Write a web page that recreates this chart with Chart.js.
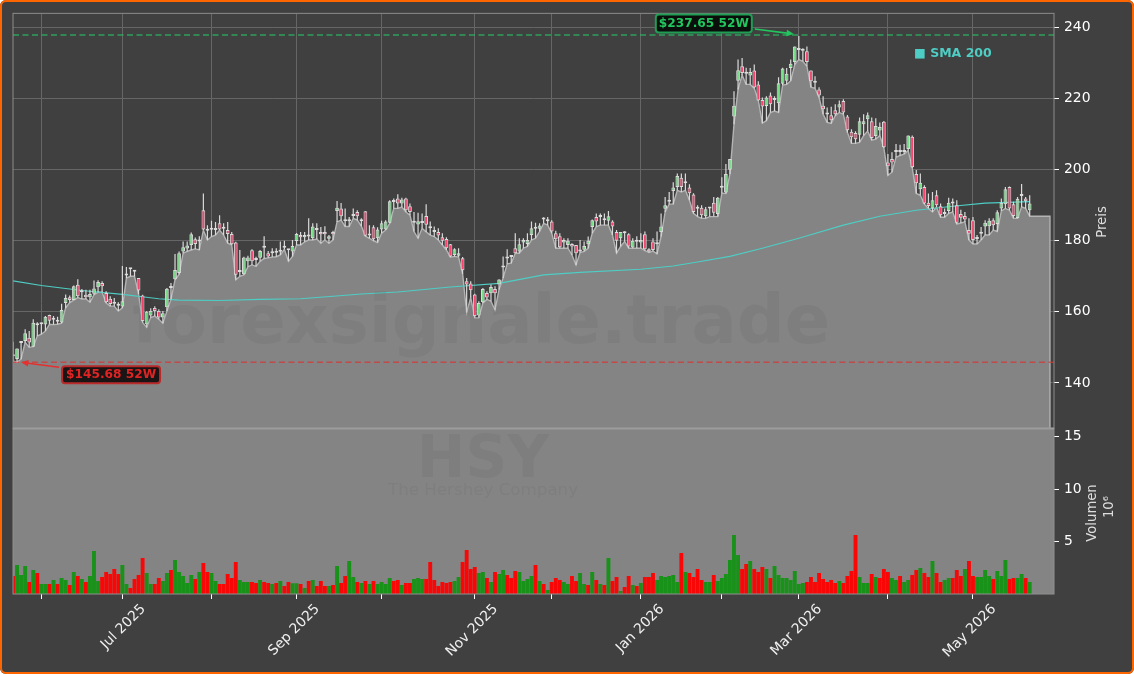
<!DOCTYPE html>
<html>
<head>
<meta charset="utf-8">
<title>HSY</title>
<script src="https://cdn.jsdelivr.net/npm/chart.js@4/dist/chart.umd.min.js"></script>
<style>
  html, body { margin: 0; padding: 0; background: #fff; }
  #wrap { position: relative; width: 1134px; height: 674px; overflow: hidden; }
  #chart { position: absolute; left: 0; top: 0; background: #404040; border-radius: 6px; }
  #frame { position: absolute; left: 0; top: 0; width: 1130px; height: 670px; border: 2px solid #ff6600; border-radius: 6px; pointer-events: none; }
</style>
</head>
<body>
<div id="wrap">
  <canvas id="chart" width="1134" height="674"></canvas>
  <div id="frame"></div>
</div>
<script>
// values, one entry per trading day
const opens = [
  148,146.7,151.2,151.8,152.7,150.2,156.2,156.5,156.4,159.1,
  157.8,157.2,157,162.5,164.1,163.3,167.6,165.6,164.8,164.1,
  165.1,166.9,168.1,165.3,163.7,162.4,161.9,161.5,170.2,172,
  171.6,169.5,164.6,156.5,159,161.1,160.2,158.4,161.3,166.7,
  169.2,170.9,177,177.8,178.8,180.4,179.8,188.6,182.8,183.1,
  183,184.9,183.5,183,181.9,179.5,171.4,170.6,174.2,177.3,
  174.7,175.2,178.1,176.5,176.5,176.8,176.9,178,177.6,177,
  179.9,181.6,181,181.3,180.7,183,182.5,182.5,180.6,182.5,
  188.4,189.1,185.5,185.5,187,188.1,185.5,188.3,182,183.8,
  180.7,183.2,183.2,185.1,191.4,191.9,190.5,191.9,189.7,185.2,
  184.6,185,187,184,183,182.5,181,180.5,179,176,
  175.8,175.1,168.6,168,164.9,159,162.7,165.3,165.2,166.4,
  167.7,172.5,175,175.4,177.9,177,179.5,179.1,181.6,183.5,
  183.4,186,185.6,185.4,182.1,181.3,179.5,178.8,179.1,178.8,
  177,177.5,179,183.9,186.7,186.8,185.8,185.6,185.4,182.5,
  180.7,182.1,181.8,178.1,179.8,179.5,181.8,177.6,179.8,179,
  182.5,189,191,194,195.1,197.7,196.3,195,193,189.6,
  189.3,186.9,189.1,190.7,187.5,194.9,193.6,200,215,225,
  229.1,227,226.5,227.9,224,219.6,217.9,220.9,219.7,218.7,
  224.2,225,228.6,230.3,233.8,233.5,233.3,227.9,225,222.6,
  218,215.5,215.3,216.7,217.5,219.3,215,210.7,210.3,209.8,
  212.8,214.2,213.6,209.5,211,213.5,202,203,205,205,
  205,205.8,209.3,198.8,194.5,195.1,190.7,189.1,192.8,189.7,
  188,188.4,190.5,190,187.5,187,183,185.8,181,182,
  184,184.1,185.8,184.7,189.1,190.3,195.1,190.3,186.4,192.6,
  191.9,188.6
];
const closes = [
  147.5,149.7,151.4,154,151.4,156.9,156.4,156.6,158.6,157.5,
  158,157.6,160.5,163.9,163.3,167.2,164.4,165.5,164.1,165,
  166.6,168.4,167.2,162.7,162.2,162.3,161.7,163,170.4,172,
  171.3,166,157.4,160,160.2,160.2,158.4,159.6,166.5,166.8,
  171.8,176.5,178.2,178.7,181.8,179.1,180.1,183.2,183,183.4,
  183.5,183.2,183.4,181.9,179,170.4,171.2,175.3,175.3,174.2,
  174.6,177.1,178,175.6,177,176.6,177.5,178.5,177.3,178.5,
  181.9,181,181.6,181.2,184,183.2,181.8,181.8,181.3,181.8,
  189.3,186.9,186,186,187.5,186.9,186,181.4,181.5,180.4,
  183.2,184.9,185.4,191.1,190.9,190.5,191.6,188.6,188.1,185.1,
  185.5,185.4,184.5,183.5,182.5,181.5,180,177.9,175.6,177.6,
  176.5,171.7,167.7,166.1,158.8,162.5,166.4,164,167,165.2,
  169.1,173,175.5,175.5,176.5,179,180.2,180.2,183.5,183.4,
  184.3,186.1,185.5,182.6,180.4,178.2,180.2,180,178.4,176.5,
  177,178.5,180,185.8,185.4,186.7,185.9,186.9,184,180,
  182.5,182.1,178.4,180,179.7,180.2,177.6,177,177.4,179.5,
  184,190,191.5,195,198.2,195.1,196.2,193.4,188.1,189,
  187.2,188.9,189.1,187.9,192.1,195,198.8,203,218,228,
  227.2,227.5,227.5,223.1,219.5,217.8,220.3,218.4,219.6,224.3,
  228.5,227,229.8,234.7,233.7,234,230.3,224.9,224.5,220.9,
  217,216,213.9,215.6,218.4,216.1,211.1,209.1,208.6,213.6,
  213.6,215.3,208.9,212.3,212,206.3,201,202,205.5,205.2,
  205.3,209.6,200.7,196.2,196.3,190.5,189.8,191.4,190,187.2,
  187.5,190.7,190.5,185.1,186.5,186,182,180.2,180.5,182.5,
  185.1,185.6,184.4,188,190.7,194.5,189.1,187,191.8,192.6,
  191.1,190.5
];
const highs = [
  151.6,149.7,151.5,155.1,154.6,157.9,157.1,156.9,158.8,159.2,
  158.8,158.6,162.3,164.9,164.6,167.4,169.2,166.4,166.2,166.2,
  168.8,168.9,168.6,165.8,164.4,163.9,162.7,172.9,172.6,172.3,
  171.8,169.5,164.8,160.2,161,161.6,160.7,160.2,166.7,168.1,
  176.3,177,179.8,179.8,182.3,180.9,181.3,193.3,184.4,185.6,
  185.3,187.2,184.9,185.3,182.5,179.7,177.4,175.5,175.8,177.6,
  175.5,177.4,181.3,177.1,177.9,177.9,179.8,180,177.6,180.2,
  182.2,182.5,182.5,186.3,184.9,184.9,183.9,184.1,181.6,182.8,
  191.2,190.6,189.1,186.7,189.1,188.6,186.3,188.3,184.4,184.4,
  183.8,185.6,185.8,191.4,191.9,193.1,192.1,192.1,190.5,188.1,
  187.9,187.7,190.3,185.4,184,183.5,182.1,181,179.1,177.9,
  177.9,175.4,169.5,168.6,165.1,163,166.7,165.8,167.7,167.2,
  169.2,175.6,177.6,176,182.1,180.7,180.7,182.1,185.4,185.1,
  184.9,186.6,186.7,185.8,182.8,182.1,180.7,180.7,179.3,178.8,
  180.2,179.8,181.2,186,187.7,187.7,187.7,188.4,185.8,183,
  182.5,182.7,182.1,180.7,181.3,182.1,182.6,177.9,180.7,182.6,
  187.7,192.3,193.7,196.5,198.9,198.9,198.9,195.9,193.4,190,
  190,189.5,189.5,192.3,192.3,197.9,201.6,203,222.1,231,
  231.4,228.7,228.6,229.6,224.9,220.3,220.7,221.7,220.7,226,
  228.7,228.6,231,234.7,237.65,234.2,234.7,227.9,226.3,223.2,
  220.7,217.5,217.7,218.4,219.5,219.8,215.4,211.4,210.8,214.7,
  215.6,216.1,214.7,214.5,213.3,213.7,204.4,204.9,207.2,207,
  207.2,209.6,209.6,199.9,198.9,195.6,193.3,193.7,194.2,190.5,
  189.1,192.1,191.9,191.4,188.7,188.1,186.3,186.7,181.6,183.9,
  185.8,186.3,186.3,188.6,191.9,195.1,195.3,191,192.3,196,
  192.3,192.8
];
const lows = [
  146.2,145.8,146.7,151.4,150,150.2,153.2,153.7,154.6,156.5,
  156.4,156.5,156.8,161.1,162.6,163.3,164,163.6,163.6,162.7,
  164.8,165.5,165.5,162.5,161.6,161.6,160.2,161.1,169.5,170,
  170,165,157,155.6,158.4,158.8,157.9,156.8,160.2,163.5,
  169,170.5,176.5,177,177.4,177.7,177.4,183,180.2,181.2,
  181.6,183,181.6,179.3,178.8,169,170,170.4,172.7,173.2,
  172.8,174.2,175,175.2,175.4,175.5,176,177.6,174.2,175.6,
  178.8,178.8,179.7,180.2,180.2,180.5,179.3,180.2,179.3,180.2,
  185.3,185.8,184,184,186.3,185.8,184.1,181.3,180.7,180,
  179.5,182.1,183,184.9,189.1,189.1,189.5,188.1,187.2,182.6,
  180.7,183.5,182.5,181.6,181.2,180.2,178.8,177.4,175.4,175.6,
  175.4,170.7,159.8,164,158.3,158.3,162.5,163.5,163,160.5,
  166.3,169.5,173.5,173.7,176.5,176.5,177.9,178.4,180.2,180.7,
  182.6,184.9,184.4,182.1,177.9,177.9,177.9,177.9,176,173.2,
  176.7,177,177.9,182.1,184,184.4,184.4,184.4,181.6,176.5,
  178.4,179.8,177.9,177.9,177.9,177.9,177.2,176.7,177.1,176.3,
  181.2,188.1,190.3,190.3,194.2,193.7,194.2,191.4,187.7,186.8,
  186.3,186.3,186.8,186.8,186.8,193.4,193.3,198.8,212.8,222.6,
  226.6,224,224,222.9,219.5,213.1,213.8,216.1,216.5,216.1,
  223.8,224,225,229.6,231,230.5,229.1,223.2,222.9,220.3,
  215.6,213.3,213,215.2,216.1,215.6,210.5,207.4,207.4,207.7,
  209.6,210.9,208.3,208.6,209.6,206.1,198.4,199.3,203.5,204,
  204.4,205.4,200.5,193.3,192.8,190.3,189.1,188.1,189.5,186.6,
  186.6,187.7,188.1,184.7,185,185.3,180.2,179.1,179.1,180.2,
  181.6,181.6,183,182.6,188.4,189.1,188.6,186.3,186.3,189.5,
  189.1,186.9
];
// volume in millions, volumeUp: 1 = green bar, 0 = red bar
const volumes = [
  1.71,2.76,1.81,2.67,1.14,2.29,2,.95,.95,.95,
  1.33,.95,1.52,1.33,.86,2.1,1.71,1.43,1.14,1.71,
  4.1,1.24,1.62,2.1,1.9,2.38,1.9,2.76,.95,.57,
  1.43,1.81,3.43,2,.95,.95,1.52,1.24,2,2.29,
  3.24,2.1,1.71,1.05,1.81,1.43,2.1,2.95,2.1,2,
  1.24,.95,.95,1.9,1.52,3.05,1.33,1.14,1.14,1.14,
  1.05,1.33,1.14,1.05,.95,1.05,1.24,.76,1.14,1.02,
  1.02,.95,.57,1.24,1.33,.76,1.24,.76,.76,.86,
  2.67,1.05,1.71,3.14,1.62,1.14,1.05,1.24,.95,1.24,
  .95,1.14,.95,1.52,1.24,1.33,.86,1.05,1.05,1.43,
  1.52,1.43,1.43,3.05,1.33,.76,1.14,1.05,1.14,1.24,
  1.62,3.05,4.19,2.38,2.57,2,2.1,1.52,1.14,2.1,
  1.9,2.29,1.81,1.52,2.19,2.1,1.24,1.43,1.71,2.76,
  1.24,.95,.38,1.14,1.52,1.33,1.14,.95,1.71,1.24,
  2,.95,.86,2.1,1.33,.95,.86,3.43,1.24,1.62,
  .29,.67,1.71,.86,.76,1.05,1.62,1.62,2,1.33,
  1.71,1.62,1.71,1.81,1.14,3.9,2.1,2,1.62,2.38,
  1.33,1.14,1.14,1.81,1.24,1.52,1.9,3.24,5.62,3.71,
  2.38,2.86,3.14,2.38,2.1,2.57,2.38,1.52,2.67,1.81,
  1.52,1.52,1.33,2.19,.95,1.05,1.14,1.62,1.14,2,
  1.43,1.14,1.33,1.05,1.24,1.05,1.71,2.19,5.62,1.62,
  1.05,1.05,1.9,1.62,1.52,2.38,2.1,1.52,1.33,1.71,
  1.14,1.33,1.81,2.29,2.48,2,1.62,3.14,2,1.14,
  1.33,1.52,1.52,2.29,1.71,2.38,3.14,1.71,1.62,1.62,
  2.29,1.71,1.43,2.19,1.71,3.24,1.43,1.52,1.52,1.9,
  1.52,1.14
];
const volumeUp = [
  0,1,1,1,0,1,0,1,1,0,
  1,0,1,1,0,1,0,1,0,1,
  1,1,0,0,0,0,0,1,1,0,
  0,0,0,1,1,0,0,1,1,0,
  1,1,1,1,1,0,1,0,0,1,
  1,0,0,0,0,0,1,1,1,0,
  0,1,0,0,1,0,1,0,0,1,
  1,0,1,0,1,0,0,0,1,0,
  1,0,0,1,1,0,1,0,1,0,
  1,1,1,1,0,0,1,0,0,1,
  1,1,0,0,0,0,0,0,0,1,
  1,0,0,0,0,1,1,0,1,0,
  1,1,0,0,0,1,1,1,1,0,
  1,0,1,0,0,0,1,1,0,0,
  1,1,0,1,0,1,0,1,0,0,
  1,0,0,1,0,1,0,0,0,1,
  1,1,1,1,1,0,1,0,0,0,
  0,1,1,0,1,1,1,1,1,1,
  0,0,1,0,0,0,1,0,1,1,
  1,1,1,1,1,1,0,0,0,0,
  0,0,0,0,1,0,0,0,0,1,
  1,1,0,1,0,0,0,1,1,0,
  1,1,0,0,1,0,0,1,0,0,
  1,1,0,0,0,1,0,0,1,1,
  1,1,0,1,1,1,0,0,1,1,
  0,1
];
// SMA 200 as read at these bar positions
const smaBars = [0,7,17,27,36,41,51,61,71,79,86,95,108,120,131,140,155,163,169,177,185,194,205,214,223,232,240,251];
const smaValues = [168.7,167.4,166,164.9,163.7,163.3,163.2,163.5,163.7,164.4,165,165.6,167,168,170.4,171.1,172,172.9,174,175.6,177.9,180.7,184.4,186.9,188.6,189.7,190.6,191];

const monthBars = [7,27,49,70,91,114,133,155,175,194,216,237];
const monthLabels = ["","Jul 2025","","Sep 2025","","Nov 2025","","Jan 2026","","Mar 2026","","May 2026"];
const priceTicks = [140,160,180,200,220,240];
const volumeTicks = [5,10,15];

// dashed levels as they sit against the grid in the picture
const highLine = 237.9;
const lowLine = 145.8;
const high52Bar = 194;
const low52Bar = 1;
const lastBar = 251;
const tailBars = [252,253,254,255,256];
const priceMin = 127.2;
const priceMax = 244;

const FONT = '"DejaVu Sans", sans-serif';
Chart.defaults.font.family = FONT;
Chart.defaults.font.size = 13.9;
Chart.defaults.color = "#ffffff";

const bars = opens.map((_, i) => i);

// area under the lows, runs on flat after the last bar and drops to the panel floor
const areaPoints = bars.map((i) => ({ x: i, y: lows[i] }));
tailBars.forEach((x) => areaPoints.push({ x, y: lows[lastBar] }));
areaPoints.push({ x: tailBars[tailBars.length - 1], y: priceMin });

const bodyColor = bars.map((i) => (closes[i] >= opens[i] ? "#78e088" : "#f7456f"));

function label52(ctx, text, x, y, w, h, fg, edge, bg) {
  ctx.beginPath();
  ctx.roundRect(x, y, w, h, 3);
  ctx.fillStyle = bg;
  ctx.fill();
  ctx.lineWidth = 2;
  ctx.strokeStyle = edge;
  ctx.stroke();
  ctx.fillStyle = fg;
  ctx.font = "bold 12.2px " + FONT;
  ctx.textAlign = "center";
  ctx.textBaseline = "middle";
  ctx.fillText(text, x + w / 2, y + h / 2 + 0.5);
}

function arrow(ctx, x0, y0, x1, y1, color) {
  const a = Math.atan2(y1 - y0, x1 - x0);
  ctx.strokeStyle = color;
  ctx.fillStyle = color;
  ctx.lineWidth = 1.6;
  ctx.beginPath();
  ctx.moveTo(x0, y0);
  ctx.lineTo(x1 - 7 * Math.cos(a), y1 - 7 * Math.sin(a));
  ctx.stroke();
  ctx.beginPath();
  ctx.moveTo(x1, y1);
  ctx.lineTo(x1 - 8 * Math.cos(a - 0.42), y1 - 8 * Math.sin(a - 0.42));
  ctx.lineTo(x1 - 8 * Math.cos(a + 0.42), y1 - 8 * Math.sin(a + 0.42));
  ctx.closePath();
  ctx.fill();
}

const panelPlugin = {
  id: "panels",
  beforeDatasetsDraw(chart) {
    const { ctx, chartArea } = chart;
    const vol = chart.scales.yVol;
    ctx.save();
    ctx.fillStyle = "#848484";
    ctx.fillRect(chartArea.left, vol.top, chartArea.width, vol.height);
    ctx.restore();
  },
  afterDatasetsDraw(chart) {
    const { ctx, chartArea, scales } = chart;
    const { x, yPrice, yVol } = scales;
    ctx.save();

    // watermarks
    ctx.textAlign = "center";
    ctx.textBaseline = "middle";
    ctx.fillStyle = "rgba(0,0,0,0.045)";
    ctx.font = "bold 67px " + FONT;
    ctx.fillText("forexsignale.trade", 481, 326);
    ctx.font = "bold 58px " + FONT;
    ctx.fillText("HSY", 483, 462);
    ctx.font = "16.7px " + FONT;
    ctx.fillText("The Hershey Company", 483, 491);

    // panel frames
    ctx.strokeStyle = "#8c8c8c";
    ctx.lineWidth = 1;
    ctx.strokeRect(chartArea.left, yPrice.top, chartArea.width, yPrice.height);
    ctx.strokeStyle = "#8f8f8f";
    ctx.strokeRect(chartArea.left, yVol.top, chartArea.width, yVol.height);
    ctx.strokeStyle = "#9c9c9c";
    ctx.lineWidth = 2;
    ctx.beginPath();
    ctx.moveTo(chartArea.left, yPrice.bottom);
    ctx.lineTo(chartArea.right, yPrice.bottom);
    ctx.stroke();

    // 52 week labels
    const hx = x.getPixelForValue(high52Bar);
    const hy = yPrice.getPixelForValue(highLine);
    arrow(ctx, hx - 44, hy - 6, hx - 5, hy - 1, "#22c55e");
    label52(ctx, "$237.65 52W", hx - 143, hy - 20.5, 96, 18, "#22c55e", "#1f9d55", "#0a0f0c");

    const lx = x.getPixelForValue(low52Bar);
    const ly = yPrice.getPixelForValue(lowLine);
    arrow(ctx, lx + 42, ly + 5, lx + 4, ly, "#e53030");
    label52(ctx, "$145.68 52W", lx + 45, ly + 4, 98, 17, "#e02424", "#b92a2a", "#1a1414");

    // legend
    ctx.fillStyle = "#4ecdc4";
    ctx.font = "bold 12.5px " + FONT;
    ctx.textAlign = "left";
    ctx.fillText("\u25A0 SMA 200", 914, 54);

    // axis titles read bottom to top
    ctx.fillStyle = "#dddddd";
    ctx.font = "13.2px " + FONT;
    ctx.textAlign = "center";
    const titles = [["Preis", 1103, 222], ["Volumen", 1093, 513], ["10\u2076", 1110, 507]];
    titles.forEach(([text, tx, ty]) => {
      ctx.save();
      ctx.translate(tx, ty);
      ctx.rotate(-Math.PI / 2);
      ctx.fillText(text, 0, 0);
      ctx.restore();
    });
    ctx.restore();
  },
};

new Chart(document.getElementById("chart"), {
  type: "bar",
  plugins: [panelPlugin],
  data: {
    datasets: [
      {
        label: "Body",
        data: bars.map((i) => ({ x: i, y: [opens[i], closes[i]] })),
        yAxisID: "yPrice",
        order: 1,
        grouped: false,
        barPercentage: 1.15,
        maxBarThickness: 4.5,
        minBarLength: 2,
        backgroundColor: bodyColor,
        borderColor: "#dcdcdc",
        borderWidth: 1,
        borderSkipped: false,
      },
      {
        label: "Wick",
        data: bars.map((i) => ({ x: i, y: [lows[i], highs[i]] })),
        yAxisID: "yPrice",
        order: 2,
        grouped: false,
        barPercentage: 1,
        maxBarThickness: 1.2,
        backgroundColor: "#dadada",
        borderWidth: 0,
      },
      {
        type: "line",
        label: "SMA 200",
        data: smaBars.map((b, i) => ({ x: b, y: smaValues[i] })),
        yAxisID: "yPrice",
        order: 3,
        borderColor: "#4ecdc4",
        borderWidth: 1.1,
        pointRadius: 0,
        fill: false,
      },
      {
        type: "line",
        label: "52W High",
        data: [{ x: 0, y: highLine }, { x: 257, y: highLine }],
        yAxisID: "yPrice",
        order: 4,
        borderColor: "rgba(40,190,100,0.75)",
        borderWidth: 1.5,
        borderDash: [6, 3.5],
        pointRadius: 0,
      },
      {
        type: "line",
        label: "52W Low",
        data: [{ x: 0, y: lowLine }, { x: 257, y: lowLine }],
        yAxisID: "yPrice",
        order: 4,
        borderColor: "rgba(220,50,50,0.7)",
        borderWidth: 1.5,
        borderDash: [6, 3.5],
        pointRadius: 0,
      },
      {
        type: "line",
        label: "Area",
        data: areaPoints,
        yAxisID: "yPrice",
        order: 5,
        borderColor: "#b4b4b4",
        borderWidth: 1.4,
        backgroundColor: "#848484",
        fill: "start",
        tension: 0,
        pointRadius: 0,
      },
      {
        label: "Volumen",
        data: bars.map((i) => ({ x: i, y: volumes[i] })),
        yAxisID: "yVol",
        order: 6,
        grouped: false,
        barPercentage: 1.2,
        backgroundColor: bars.map((i) => (volumeUp[i] ? "rgba(18,146,18,0.95)" : "rgba(255,0,0,0.95)")),
        borderWidth: 0,
      },
    ],
  },
  options: {
    responsive: false,
    animation: false,
    devicePixelRatio: 1,
    layout: { padding: { left: 13, top: 12, right: 0, bottom: 0 } },
    plugins: { legend: { display: false }, tooltip: { enabled: false } },
    scales: {
      x: {
        type: "linear",
        position: "bottom",
        min: 0,
        max: 257,
        offset: false,
        afterBuildTicks: (s) => { s.ticks = monthBars.map((value) => ({ value })); },
        afterFit: (s) => { s.height = 80; },
        grid: { offset: false, color: "#666666", lineWidth: 1, tickColor: "#ffffff", tickLength: 5 },
        border: { display: false },
        ticks: {
          autoSkip: false,
          maxRotation: 45,
          minRotation: 45,
          labelOffset: 21,
          padding: 2,
          color: "#f0f0f0",
          callback: (value) => monthLabels[monthBars.indexOf(value)],
        },
      },
      yPrice: {
        type: "linear",
        position: "right",
        stack: "panels",
        stackWeight: 416,
        weight: 0,
        min: priceMin,
        max: priceMax,
        afterBuildTicks: (s) => { s.ticks = priceTicks.map((value) => ({ value })); },
        afterFit: (s) => { s.width = 80; },
        grid: { color: "#666666", lineWidth: 1, tickColor: "#ffffff", tickLength: 5 },
        border: { display: false },
        ticks: { padding: 5, color: "#ffffff" },
      },
      yVol: {
        type: "linear",
        position: "right",
        stack: "panels",
        stackWeight: 166,
        weight: 1,
        min: 0,
        max: 15.8,
        afterBuildTicks: (s) => { s.ticks = volumeTicks.map((value) => ({ value })); },
        afterFit: (s) => { s.width = 80; },
        grid: { drawOnChartArea: false, tickColor: "#ffffff", tickLength: 5 },
        border: { display: false },
        ticks: { padding: 5, color: "#ffffff" },
      },
    },
  },
});
</script>
</body>
</html>
